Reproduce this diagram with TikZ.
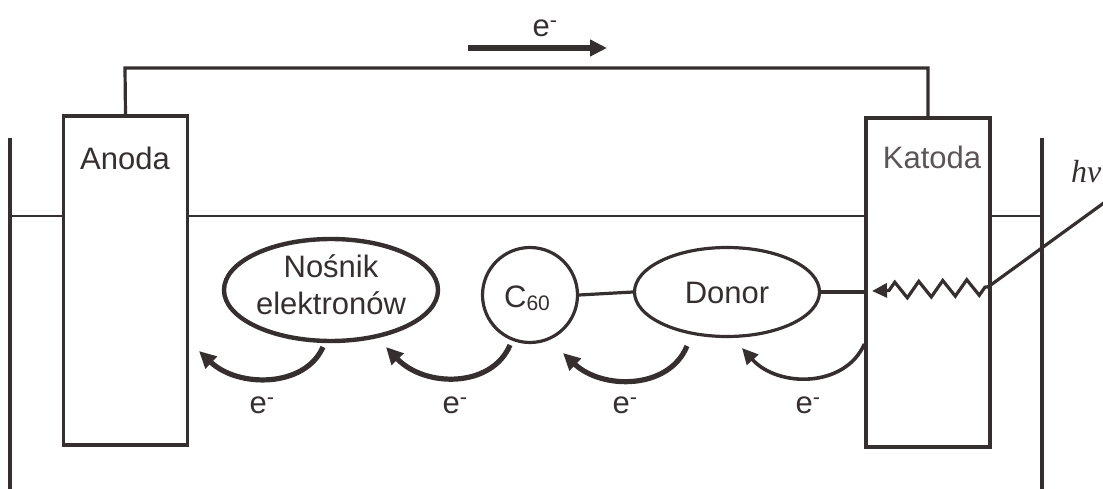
\documentclass[tikz,border=0pt]{standalone}
\usepackage{fontspec}
\setmainfont{Liberation Sans}
\newfontfamily\photonfont{Liberation Serif}
\usetikzlibrary{arrows.meta,decorations.pathmorphing,shapes.geometric}
\definecolor{ink}{HTML}{362F30}
\definecolor{softink}{HTML}{5C5557}
\begin{document}
\begin{tikzpicture}[x=1pt,y=-1pt,
  line join=miter,
  wall/.style={draw=ink, line width=3.2pt},
  electrode/.style={draw=ink, line width=3.2pt, rectangle, inner sep=0pt,
    minimum width=124pt, minimum height=329pt},
  txt/.style={text=ink, font=\fontsize{31}{37}\selectfont, inner sep=0pt},
  molecule/.style={draw=ink, line width=3.2pt, ellipse, inner sep=0pt},
  hop/.style={draw=ink, line width=5.2pt, -{Triangle[length=17pt,width=16pt]}},
  hoplight/.style={draw=ink, line width=3.6pt, -{Triangle[length=16pt,width=15pt]}},
  elabel/.style={txt}
]
\useasboundingbox (0,0) rectangle (1103,489);
\clip (0,0) rectangle (1103,489);

% electrodes
\node[electrode] (anoda) at (125.5,280.5) {};
\node[electrode] (katoda) at (928,282.5) {};
\node[txt] (anodaT) at (125,158) {Anoda};
\node[txt, text=softink] (katodaT) at (932,157) {Katoda};

% vessel walls and electrolyte level
\coordinate (lwT) at (10,138);
\coordinate (lwB) at (10,489);
\coordinate (rwT) at (1042,138);
\coordinate (rwB) at (1042,489);
\draw[wall] (lwT) -- (lwB);
\draw[wall] (rwT) -- (rwB);
\draw[wall, line width=2.8pt] (10,216) -- (anoda.west |- 0,216);
\draw[wall, line width=2.8pt] (anoda.east |- 0,216) -- (katoda.west |- 0,216);
\draw[wall, line width=2.8pt] (katoda.east |- 0,216) -- (rwT |- 0,216);

% external circuit
\draw[wall] (anoda.north) -- (125,68) -- (928,68) -- (katoda.north);
\coordinate (eS) at (468,48);
\coordinate (eE) at (607,48);
\draw[hop] (eS) -- (eE);
\node[elabel] (eTop) at (545,28) {e\textsuperscript{-}};

% molecules
\node[molecule, line width=4.4pt, minimum width=214pt, minimum height=102pt] (nosnik) at (331,290) {};
\node[txt, align=center] (nosnikT) at (331,285) {Nośnik\\elektronów};
\node[molecule, circle, minimum size=95pt] (c60) at (530,295) {};
\node[txt] (c60T) at (527,298) {C\raisebox{-3pt}{\fontsize{21}{24}\selectfont 60}};
\node[molecule, minimum width=185pt, minimum height=89pt] (donor) at (727,292) {};
\node[txt] (donorT) at (727,293) {Donor};

\draw[wall] (c60.east) -- (donor.west);
\draw[wall] (donor.east) -- (donor.east -| katoda.west);

% incoming photon
\node[txt, anchor=base west, font=\photonfont\itshape\fontsize{32}{36}\selectfont] (hv) at (1071,183) {hν};
\coordinate (phS) at (1112,197);
\coordinate (phE) at (988,287);
\coordinate (phT) at (872,291);
\draw[wall] (phS) -- (phE);
\draw[wall, decorate,
  decoration={zigzag, segment length=24pt, amplitude=8pt, pre length=3pt, post length=14pt},
  -{Triangle[length=15pt,width=14pt]}] (phE) -- (phT);

% electron hops
\draw[hop] (323,347) .. controls (305,388) and (238,388) .. (199,351);
\node[elabel] (e1) at (262,405) {e\textsuperscript{-}};
\draw[hop] (510,345) .. controls (492,388) and (425,388) .. (386,347);
\node[elabel] (e2) at (455,405) {e\textsuperscript{-}};
\draw[hop] (687,346) .. controls (669,390) and (602,390) .. (563,353);
\node[elabel] (e3) at (625,405) {e\textsuperscript{-}};
\draw[hoplight] (katoda.west |- 0,344) .. controls (845,388) and (778,388) .. (742,348);
\node[elabel] (e4) at (808,405) {e\textsuperscript{-}};
\end{tikzpicture}
\end{document}
